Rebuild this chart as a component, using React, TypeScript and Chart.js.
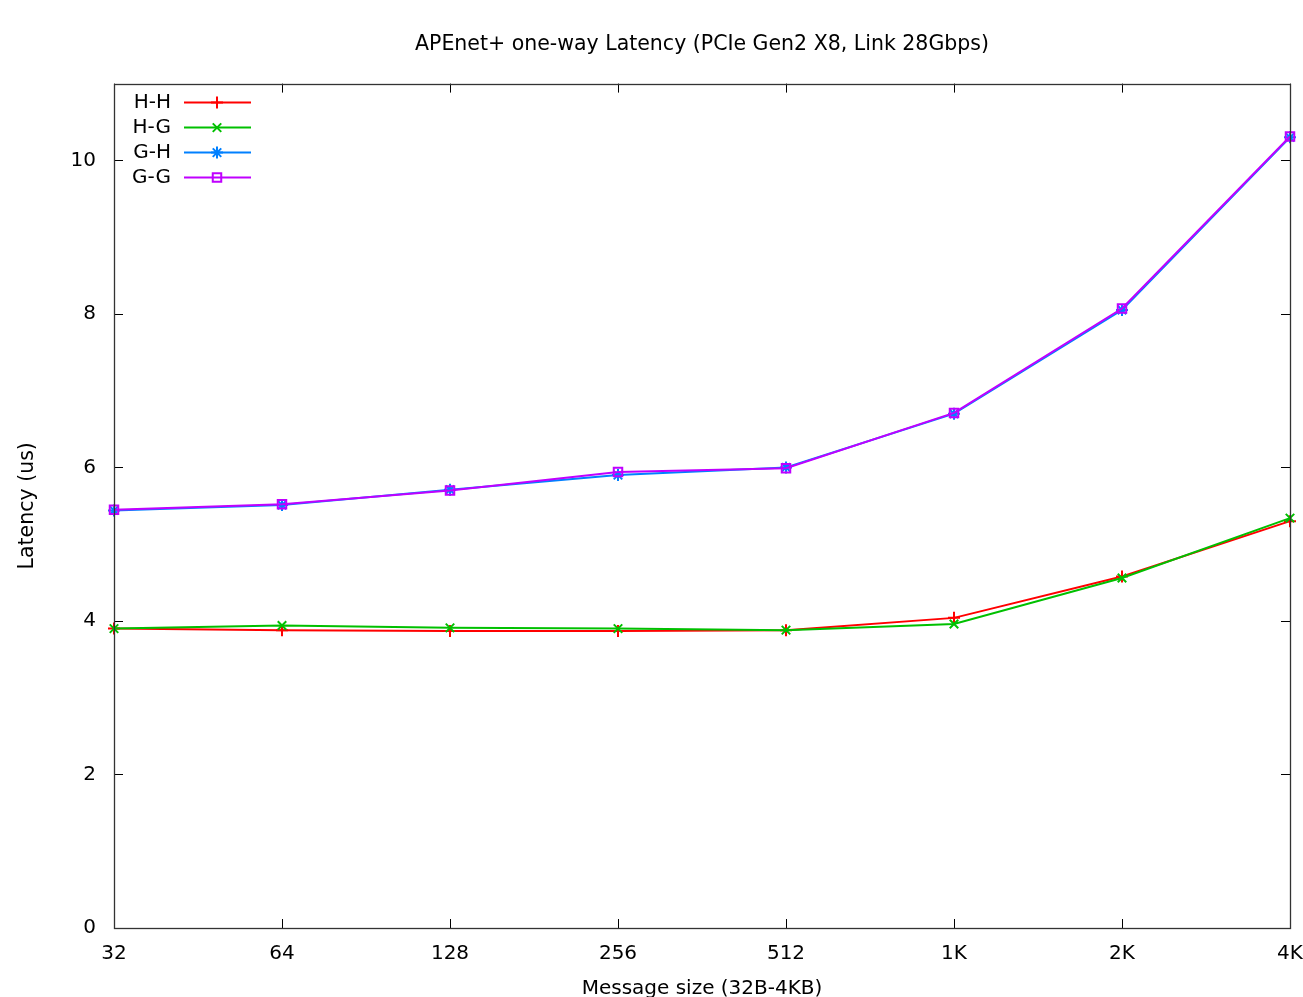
import React, { useEffect, useRef } from "react";
import { Chart, registerables } from "chart.js";
import { drawPoint } from "chart.js/helpers";

Chart.register(...registerables);

const CATEGORIES = ["32", "64", "128", "256", "512", "1K", "2K", "4K"];
const HH = [3.9, 3.88, 3.87, 3.87, 3.88, 4.04, 4.58, 5.3];
const HG = [3.9, 3.94, 3.91, 3.9, 3.88, 3.96, 4.56, 5.34];
const GH = [5.44, 5.51, 5.71, 5.9, 6.0, 6.7, 8.05, 10.3];
const GG = [5.45, 5.52, 5.7, 5.94, 5.99, 6.71, 8.07, 10.31];
const Y_TICKS = [0, 2, 4, 6, 8, 10];
const TITLE = "APEnet+ one-way Latency (PCIe Gen2 X8, Link 28Gbps)";
const X_TITLE = "Message size (32B-4KB)";
const Y_TITLE = "Latency (us)";

const FONT = "'DejaVu Sans', sans-serif";

const SERIES = [
  { label: "H-H", data: HH, color: "#ff0000", style: "cross" },
  { label: "H-G", data: HG, color: "#00c000", style: "crossRot" },
  { label: "G-H", data: GH, color: "#0080ff", style: "star" },
  { label: "G-G", data: GG, color: "#c000ff", style: "rect" },
];

const framePlugin = {
  id: "gnuframe",
  afterDraw(chart: any) {
    const { ctx, chartArea } = chart;
    const { left, right, top, bottom } = chartArea;
    const xs = chart.scales.x;
    const ys = chart.scales.y;
    const tl = 9;
    ctx.save();
    ctx.strokeStyle = "#000";
    ctx.lineWidth = 1;
    ctx.beginPath();
    xs.ticks.forEach((_t: any, i: number) => {
      const x = Math.round(xs.getPixelForTick(i)) + 0.5;
      ctx.moveTo(x, bottom);
      ctx.lineTo(x, bottom - tl);
      ctx.moveTo(x, top);
      ctx.lineTo(x, top + tl);
    });
    ys.ticks.forEach((t: any) => {
      const y = Math.round(ys.getPixelForValue(t.value)) + 0.5;
      ctx.moveTo(left, y);
      ctx.lineTo(left + tl, y);
      ctx.moveTo(right, y);
      ctx.lineTo(right - tl, y);
    });
    ctx.stroke();
    ctx.strokeStyle = "#333";
    ctx.lineWidth = 1.3;
    ctx.strokeRect(Math.round(left) + 0.5, Math.round(top) + 0.5, Math.round(right - left), Math.round(bottom - top));

    // legend
    ctx.font = `20px ${FONT}`;
    ctx.textAlign = "right";
    ctx.textBaseline = "middle";
    SERIES.forEach((s, i) => {
      const y = top + 19 + i * 25;
      ctx.fillStyle = "#000";
      ctx.fillText(s.label, left + 57, y);
      ctx.strokeStyle = s.color;
      ctx.lineWidth = 2;
      ctx.beginPath();
      ctx.moveTo(left + 70, y);
      ctx.lineTo(left + 137, y);
      ctx.stroke();
      ctx.fillStyle = "rgba(0,0,0,0)";
      drawPoint(ctx, { pointStyle: s.style, radius: 6, borderWidth: 2, rotation: 0 } as any, left + 103, y);
    });
    ctx.restore();
  },
};

export default function App() {
  const ref = useRef<HTMLCanvasElement | null>(null);
  useEffect(() => {
    document.body.style.margin = "0";
    document.body.style.overflow = "hidden";
    const canvas = ref.current!;
    const chart = new Chart(canvas, {
      type: "line",
      data: {
        labels: CATEGORIES,
        datasets: SERIES.map((s, i) => ({
          label: s.label,
          data: s.data,
          borderColor: s.color,
          backgroundColor: "rgba(0,0,0,0)",
          pointStyle: s.style as any,
          pointRadius: 6,
          pointBorderWidth: 2,
          pointBorderColor: s.color,
          pointBackgroundColor: "rgba(0,0,0,0)",
          borderWidth: 2,
          tension: 0,
          fill: false,
          order: 3 - i,
        })),
      },
      options: {
        animation: false,
        responsive: false,
        maintainAspectRatio: false,
        layout: { padding: { left: 0, right: 13, top: 0, bottom: 0 } },
        plugins: {
          legend: { display: false },
          tooltip: { enabled: false },
          title: {
            display: true,
            fullSize: false,
            text: TITLE,
            color: "#000",
            font: { family: FONT, size: 20.5, weight: "normal" as any, lineHeight: 1.2 },
            padding: { top: 32, bottom: 27 },
          },
        },
        scales: {
          x: {
            type: "category",
            offset: false,
            grid: { display: false, drawTicks: false },
            border: { display: false },
            ticks: {
              color: "#000",
              font: { family: FONT, size: 20 },
              padding: 14,
              maxRotation: 0,
              autoSkip: false,
            },
            title: {
              display: true,
              text: X_TITLE,
              color: "#000",
              font: { family: FONT, size: 20, lineHeight: 0.8 },
              padding: { top: 0, bottom: 0 },
            },
            afterFit(scale: any) {
              scale.height = 69;
              scale.paddingLeft = 0;
              scale.paddingRight = 0;
            },
          },
          y: {
            min: 0,
            max: 11,
            grid: { display: false, drawTicks: false },
            border: { display: false },
            afterBuildTicks(scale: any) {
              scale.ticks = Y_TICKS.map((v) => ({ value: v }));
            },
            ticks: {
              color: "#000",
              font: { family: FONT, size: 20 },
              padding: 18,
            },
            title: {
              display: true,
              text: Y_TITLE,
              color: "#000",
              font: { family: FONT, size: 20.5, lineHeight: 1 },
              padding: { top: 17, bottom: 0 },
            },
            afterFit(scale: any) {
              scale.width = 114;
              scale.paddingTop = 0;
              scale.paddingBottom = 0;
            },
          },
        },
      },
      plugins: [framePlugin],
    });
    return () => chart.destroy();
  }, []);
  return (
    <div style={{ width: 1303, height: 997, background: "#fff" }}>
      <canvas ref={ref} width={1303} height={997} style={{ display: "block" }} />
    </div>
  );
}
